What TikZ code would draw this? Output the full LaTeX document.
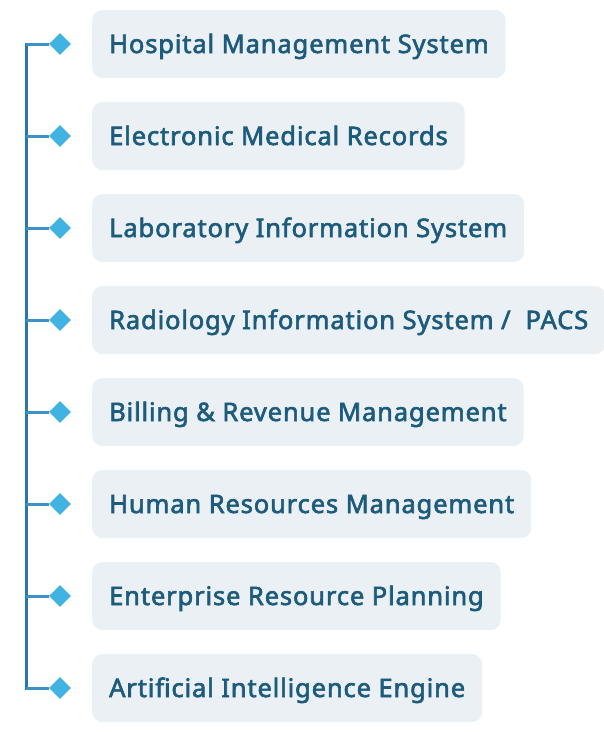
\documentclass[tikz,border=0pt]{standalone}
\usepackage{fontspec}
\setmainfont{Noto Sans}[AutoFakeBold=2.4,LetterSpace=3.4]
\usetikzlibrary{shapes.geometric,positioning}

\definecolor{boxfill}{HTML}{EAF0F3}
\definecolor{labeltext}{HTML}{1D5B7C}
\definecolor{spinecol}{HTML}{2878AA}
\definecolor{branchcol}{HTML}{3A92C6}
\definecolor{tipcol}{HTML}{41B3E2}

\newcommand*{\spinex}{26}
\newcommand*{\tipx}{60}
\newcommand*{\boxx}{92}

\begin{document}
\begin{tikzpicture}
[
	x=1pt,y=-1pt,
	modbox/.style={fill=boxfill,rounded corners=10pt,anchor=west,minimum height=68pt,inner xsep=17pt,text height=18pt,text depth=0pt,text=labeltext,font=\bfseries\fontsize{25.5}{30}\selectfont},
	tipmark/.style={diamond,fill=tipcol,inner sep=0pt,minimum size=22pt},
	spine/.style={spinecol,line width=3pt,line cap=rect},
	branch/.style={branchcol,line width=3pt}
]

	\useasboundingbox (0,0) rectangle (604,732);

	% spine
	\coordinate (s1) at (\spinex,44);
	\coordinate (s2) at (\spinex,136);
	\coordinate (s3) at (\spinex,228);
	\coordinate (s4) at (\spinex,320);
	\coordinate (s5) at (\spinex,412);
	\coordinate (s6) at (\spinex,504);
	\coordinate (s7) at (\spinex,596);
	\coordinate (s8) at (\spinex,688);
	\draw[spine] (s1) -- (s8);

	% hospital management
	\node[tipmark] at (\tipx,44) (d1) {};
	\node[modbox] at (\boxx,44) (m1) {Hospital Management System};
	\draw[branch] (s1) -- (d1);

	% medical records
	\node[tipmark] at (\tipx,136) (d2) {};
	\node[modbox] at (\boxx,136) (m2) {Electronic Medical Records};
	\draw[branch] (s2) -- (d2);

	% laboratory
	\node[tipmark] at (\tipx,228) (d3) {};
	\node[modbox] at (\boxx,228) (m3) {Laboratory Information System};
	\draw[branch] (s3) -- (d3);

	% radiology
	\node[tipmark] at (\tipx,320) (d4) {};
	\node[modbox] at (\boxx,320) (m4) {Radiology Information System /\ \ PACS};
	\draw[branch] (s4) -- (d4);

	% billing
	\node[tipmark] at (\tipx,412) (d5) {};
	\node[modbox] at (\boxx,412) (m5) {Billing \& Revenue Management};
	\draw[branch] (s5) -- (d5);

	% human resources
	\node[tipmark] at (\tipx,504) (d6) {};
	\node[modbox] at (\boxx,504) (m6) {Human Resources Management};
	\draw[branch] (s6) -- (d6);

	% erp
	\node[tipmark] at (\tipx,596) (d7) {};
	\node[modbox] at (\boxx,596) (m7) {Enterprise Resource Planning};
	\draw[branch] (s7) -- (d7);

	% ai engine
	\node[tipmark] at (\tipx,688) (d8) {};
	\node[modbox] at (\boxx,688) (m8) {Artificial Intelligence Engine};
	\draw[branch] (s8) -- (d8);

\end{tikzpicture}
\end{document}
